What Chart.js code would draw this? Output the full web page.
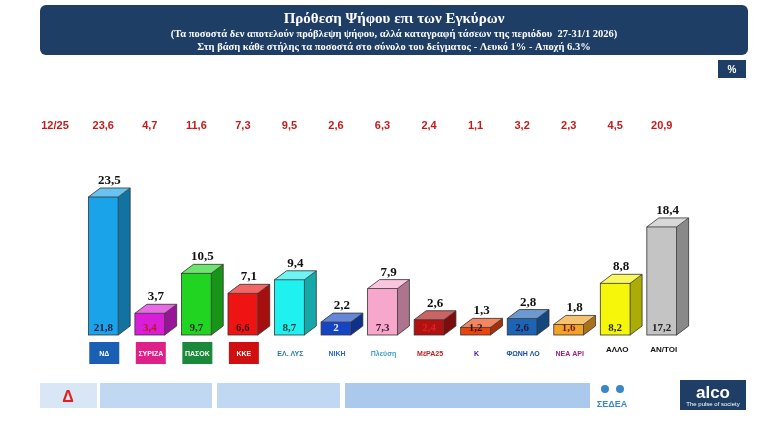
<!DOCTYPE html><html><head><meta charset="utf-8">
<script src="https://cdn.jsdelivr.net/npm/chart.js@4"></script>
<style>html,body{margin:0;padding:0;background:#fff}#w{position:relative;width:768px;height:422px}</style></head><body>
<div id="w"><canvas id="c" width="768" height="422"></canvas></div>
<script>
const parties=["ΝΔ","ΣΥΡΙΖΑ","ΠΑΣΟΚ","ΚΚΕ","ΕΛ. ΛΥΣΗ","ΝΙΚΗ","Πλεύση","ΜέΡΑ25","Κ","ΦΩΝΗ ΛΟΓΙΚΗΣ","ΝΕΑ ΑΡΙΣΤΕΡΑ","ΑΛΛΟ","ΑΝ/ΤΟΙ"];
const validVotes=[23.5,3.7,10.5,7.1,9.4,2.2,7.9,2.6,1.3,2.8,1.8,8.8,18.4];
const sampleVotes=[21.8,3.4,9.7,6.6,8.7,2,7.3,2.4,1.2,2.6,1.6,8.2,17.2];
const prevVotes=[23.6,4.7,11.6,7.3,9.5,2.6,6.3,2.4,1.1,3.2,2.3,4.5,20.9];
const prevLabel="12/25";
const colors=["#1aa3e8","#d81ed8","#22d422","#ee1414","#1ff0f0","#1446c4","#f7a6cc","#b01212","#e8460e","#1e64b4","#f2a226","#f6f60a","#c4c4c4"];
const sampleColors=["#1a1a40","#c01818","#1a2a1a","#3a0a0a","#1a3a3a","#e8e8ff","#3a1a2a","#e02020","#3a1010","#1a1a40","#7a1a1a","#2a2a10","#222"];
const logoColors=["#1a5fb4","#e0208a","#1a8a3a","#d01010","#2a7ab0","#2a6ad0","#3aa0d0","#c02020","#5010a0","#1a50a0","#a0208a","#000","#000"];
function shade(h,f){const n=parseInt(h.slice(1),16);let r=n>>16,g=n>>8&255,b=n&255;return `rgb(${Math.round(r*f)},${Math.round(g*f)},${Math.round(b*f)})`;}
const fmt=v=>String(v).replace('.',',');
const deco={id:'deco',beforeDraw(ch){const c=ch.ctx;c.save();
 c.fillStyle='#fff';c.fillRect(0,0,768,422);
 c.fillStyle='#1f3e66';c.beginPath();c.roundRect(40,5,708,50,6);c.fill();
 c.fillStyle='#fff';c.textAlign='center';c.font='bold 15px "Liberation Serif"';c.fillText('Πρόθεση Ψήφου επι των Εγκύρων',394,23);
 c.font='bold 10.5px "Liberation Serif"';c.fillText('(Τα ποσοστά δεν αποτελούν πρόβλεψη ψήφου, αλλά καταγραφή τάσεων της περιόδου  27-31/1 2026)',394,37);
 c.fillText('Στη βάση κάθε στήλης τα ποσοστά στο σύνολο του δείγματος - Λευκό 1% - Αποχή 6.3%',394,50);
 c.fillStyle='#1f3e66';c.fillRect(718,60,28,18);c.fillStyle='#fff';c.font='bold 10px "Liberation Sans"';c.fillText('%',732,73);
 c.fillStyle='#d8e6f6';c.fillRect(40,383,57,25);c.fillStyle='#c0d8f2';c.fillRect(100,383,112,25);c.fillRect(217,383,123,25);c.fillStyle='#aac9ec';c.fillRect(345,383,245,25);
 c.fillStyle='#e02020';c.font='bold 16px "Liberation Sans"';c.fillText('Δ',68,402);
 c.fillStyle='#3a86c8';c.beginPath();c.arc(605,389,4,0,7);c.arc(620,389,4,0,7);c.fill();
 c.font='bold 9px "Liberation Sans"';c.fillText('ΣΕΔΕΑ',612,407);
 c.fillStyle='#1f3e66';c.fillRect(680,380,66,30);c.fillStyle='#fff';c.font='bold 17px "Liberation Sans"';c.fillText('alco',713,398);c.font='6px "Liberation Sans"';c.fillText('The pulse of society',713,406);
 c.restore();},
 afterDatasetsDraw(ch){const c=ch.ctx,m=ch.getDatasetMeta(0);c.save();const d=12,u=9;
 m.data.forEach((b,i)=>{const w=b.width,l=b.x-w/2,r=b.x+w/2,t=b.y,bt=b.base;
  c.fillStyle=shade(colors[i],0.7);c.beginPath();c.moveTo(r,t);c.lineTo(r+d,t-u);c.lineTo(r+d,bt-u);c.lineTo(r,bt);c.fill();
  c.fillStyle=colors[i];c.beginPath();c.moveTo(l,t);c.lineTo(l+d,t-u);c.lineTo(r+d,t-u);c.lineTo(r,t);c.fill();
  c.fillStyle='rgba(255,255,255,0.35)';c.fill();
  c.strokeStyle='#333';c.lineWidth=0.8;c.strokeRect(l,t,w,bt-t);
  c.beginPath();c.moveTo(l,t);c.lineTo(l+d,t-u);c.lineTo(r+d,t-u);c.lineTo(r,t);c.moveTo(r+d,t-u);c.lineTo(r+d,bt-u);c.lineTo(r,bt);c.stroke();
  c.textAlign='center';c.fillStyle='#111';c.font='bold 13px "Liberation Serif"';c.fillText(fmt(validVotes[i]),b.x+6,t-u-4);
  c.fillStyle=sampleColors[i];c.font='bold 11px "Liberation Serif"';c.fillText(fmt(sampleVotes[i]),b.x,bt-4);
  c.fillStyle='#c41a1a';c.font='bold 11px "Liberation Sans"';c.fillText(fmt(prevVotes[i]),b.x,129);
  if(i<11){c.fillStyle=i==0?'#1a5fb4':(i==1||i==2||i==3)?logoColors[i]:'#fff';c.fillRect(b.x-14,342,30,22);
   c.fillStyle=(i<4)?'#fff':logoColors[i];c.font='bold 7px "Liberation Sans"';c.fillText(parties[i].slice(0,7),b.x+1,356);}
  else{c.fillStyle='#111';c.font='bold 8px "Liberation Sans"';c.fillText(parties[i],b.x+2,352);}
 });
 c.fillStyle='#c41a1a';c.font='bold 11px "Liberation Sans"';c.textAlign='center';c.fillText(prevLabel,55,129);
 c.restore();}};
new Chart(document.getElementById('c'),{type:'bar',data:{labels:parties,datasets:[{data:validVotes,backgroundColor:colors,barPercentage:0.64,categoryPercentage:1}]},
options:{responsive:false,animation:false,devicePixelRatio:1,layout:{padding:{left:80,right:83,top:150,bottom:87}},
plugins:{legend:{display:false},tooltip:{enabled:false}},
scales:{x:{display:false},y:{display:false,min:0,max:31.5}}},plugins:[deco]});
</script></body></html>
